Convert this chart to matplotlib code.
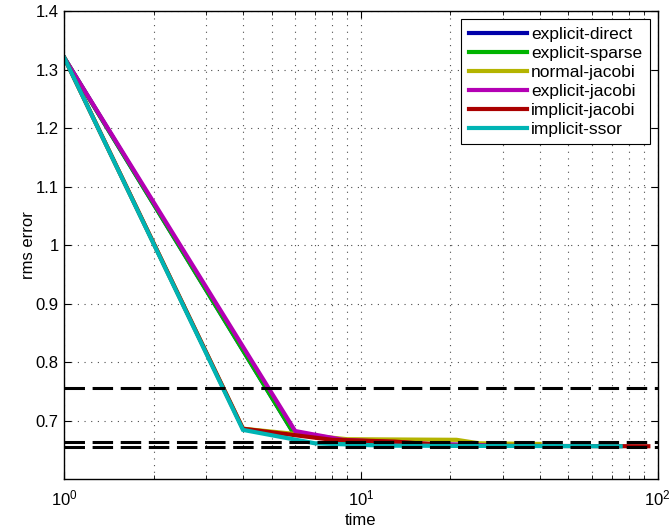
import numpy as np
import matplotlib
matplotlib.use("Agg")
import matplotlib.pyplot as plt
from matplotlib.ticker import LogLocator, NullFormatter

plt.rcParams['font.family'] = ['Liberation Sans', 'DejaVu Sans']

# series: time vs rms error
t_explicit_direct = [1, 5.9, 8.7, 17, 30]
e_explicit_direct = [1.32, 0.680, 0.665, 0.659, 0.657]

t_explicit_sparse = [1, 5.9, 8.7, 17, 30]
e_explicit_sparse = [1.32, 0.680, 0.665, 0.659, 0.657]

t_normal_jacobi = [1, 4, 9, 21, 25, 40]
e_normal_jacobi = [1.32, 0.686, 0.668, 0.667, 0.661, 0.660]

t_explicit_jacobi = [1, 6, 8.7, 17, 30]
e_explicit_jacobi = [1.32, 0.682, 0.667, 0.660, 0.657]

t_implicit_jacobi = [1, 4, 8, 13, 20, 93]
e_implicit_jacobi = [1.32, 0.686, 0.667, 0.664, 0.657, 0.656]

t_implicit_ssor = [1, 4, 7, 12, 75]
e_implicit_ssor = [1.32, 0.684, 0.661, 0.657, 0.656]

ref_levels = [0.7555, 0.664, 0.6555]

labels = ["explicit-direct", "explicit-sparse", "normal-jacobi",
          "explicit-jacobi", "implicit-jacobi", "implicit-ssor"]
colors = ["#0000aa", "#00b400", "#b4b400", "#b400b4", "#aa0000", "#00b4b4"]

series = [
    (t_explicit_direct, e_explicit_direct),
    (t_explicit_sparse, e_explicit_sparse),
    (t_normal_jacobi, e_normal_jacobi),
    (t_explicit_jacobi, e_explicit_jacobi),
    (t_implicit_jacobi, e_implicit_jacobi),
    (t_implicit_ssor, e_implicit_ssor),
]

fig = plt.figure(figsize=(6.72, 5.32), dpi=100)
ax = fig.add_axes([0.0957, 0.0996, 0.8830, 0.8797])

for (t, e), lab, c in zip(series, labels, colors):
    ax.plot(t, e, color=c, linewidth=3.0, label=lab, solid_joinstyle='miter')

for lev in ref_levels:
    ax.axhline(lev, color='black', linewidth=2.2, linestyle=(0, (6.7, 2.5)))

ax.set_xscale('log')
ax.set_xlim(1, 100)
ax.set_ylim(0.6, 1.4)
ax.set_yticks([0.7, 0.8, 0.9, 1.0, 1.1, 1.2, 1.3, 1.4])
ax.set_yticklabels(["0.7", "0.8", "0.9", "1", "1.1", "1.2", "1.3", "1.4"])
ax.xaxis.set_minor_locator(LogLocator(base=10, subs=np.arange(2, 10)))
ax.xaxis.set_minor_formatter(NullFormatter())

ax.grid(True, which='major', axis='both', color='0.3', linestyle=(0, (1, 5)), linewidth=0.8)
ax.grid(True, which='minor', axis='x', color='0.3', linestyle=(0, (1, 5)), linewidth=0.8)

ax.tick_params(which='both', direction='in', top=True, right=True, labelsize=12)
ax.tick_params(which='major', length=5)
ax.tick_params(which='minor', length=3)
ax.tick_params(axis='x', which='major', pad=7)
ax.tick_params(axis='y', which='major', pad=4)
for s in ax.spines.values():
    s.set_linewidth(1.0)

ax.set_xlabel("time", fontsize=12)
ax.set_ylabel("rms error", fontsize=12)
ax.xaxis.set_label_coords(0.5, -0.072)
ax.yaxis.set_label_coords(-0.048, 0.5)

leg = ax.legend(loc='upper right', fontsize=12.5, fancybox=False, framealpha=1,
                edgecolor='black', handlelength=3.3, handletextpad=0.25,
                labelspacing=0.22, borderpad=0.45, borderaxespad=0.45)
leg.get_frame().set_linewidth(0.8)

fig.savefig("out.png", dpi=100)
